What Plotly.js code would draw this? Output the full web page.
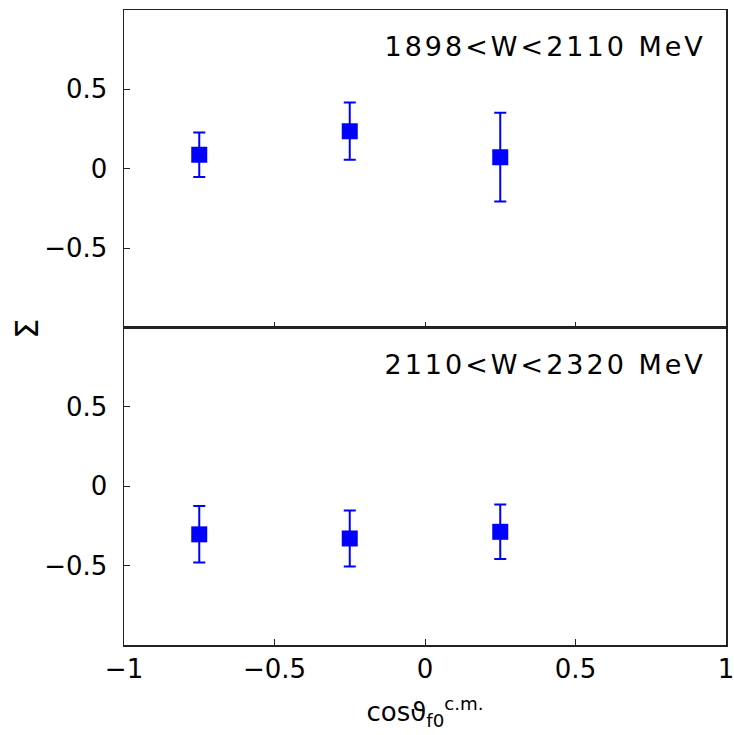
<!DOCTYPE html>
<html>
<head>
<meta charset="utf-8">
<script src="https://cdn.plot.ly/plotly-3.0.1.min.js"></script>
<style>
html,body{margin:0;padding:0;background:#fff;}
#chart .annotation-text{letter-spacing:3px;}
</style>
</head>
<body>
<div id="chart" style="width:734px;height:735px;"></div>
<script>
// Data
const cosTheta = [-0.75, -0.25, 0.25];
const sigmaLow = [0.088, 0.237, 0.073];        // 1898<W<2110 MeV
const sigmaLowErr = [0.14, 0.18, 0.28];
const sigmaHigh = [-0.303, -0.329, -0.287];    // 2110<W<2320 MeV
const sigmaHighErr = [0.178, 0.176, 0.172];
const panelLabels = ["1898<W<2110 MeV", "2110<W<2320 MeV"];
const xTicks = [-1, -0.5, 0, 0.5, 1];
const yTicks = [-0.5, 0, 0.5];

const FONT = "DejaVu Sans, Verdana, sans-serif";
const blue = "#0000ff";
const lineCol = "#222";

function trace(y, err, xa, ya) {
  return {
    x: cosTheta, y: y, xaxis: xa, yaxis: ya,
    type: "scatter", mode: "markers",
    marker: {symbol: "square", size: 16, color: blue},
    error_y: {type: "data", array: err, visible: true, color: blue, thickness: 2, width: 6},
    showlegend: false, hoverinfo: "skip"
  };
}

const data = [
  trace(sigmaLow, sigmaLowErr, "x2", "y"),
  trace(sigmaHigh, sigmaHighErr, "x", "y2")
];

const yCommon = {
  range: [-1, 1], tickvals: yTicks, ticks: "inside", ticklen: 6, tickwidth: 1,
  tickcolor: lineCol, showline: true, linecolor: lineCol, linewidth: 1.5, mirror: true,
  showgrid: false, zeroline: false, ticklabelstandoff: 10,
  tickfont: {family: FONT, size: 26, color: "#000"}
};

const layout = {
  width: 734, height: 735,
  margin: {l: 124, r: 8, t: 10, b: 90},
  paper_bgcolor: "#fff", plot_bgcolor: "#fff",
  font: {family: FONT, color: "#000"},
  xaxis: {
    anchor: "y2", domain: [0, 1], range: [-1, 1], tickvals: xTicks,
    ticks: "inside", ticklen: 6, tickwidth: 1, tickcolor: lineCol,
    showline: true, linecolor: lineCol, linewidth: 1.5, mirror: true,
    showgrid: false, zeroline: false, ticklabelstandoff: 0, ticklabeloverflow: "allow",
    tickfont: {family: FONT, size: 26, color: "#000"},
    title: {text: "cos\u03D1<sub>f0</sub><sup>c.m.</sup>", font: {family: FONT, size: 26, color: "#000"}, standoff: 20}
  },
  xaxis2: {
    anchor: "y", matches: "x", range: [-1, 1], tickvals: xTicks,
    ticks: "inside", ticklen: 6, tickwidth: 1, tickcolor: lineCol, showticklabels: false,
    showline: true, linecolor: lineCol, linewidth: 1.5, mirror: true,
    showgrid: false, zeroline: false
  },
  yaxis: Object.assign({domain: [0.5, 1], anchor: "x2"}, yCommon),
  yaxis2: Object.assign({domain: [0, 0.5], anchor: "x"}, yCommon),
  annotations: [
    {text: panelLabels[0], xref: "paper", yref: "paper", x: (545.5 - 124) / 602, y: 0.942,
     xanchor: "center", yanchor: "middle", showarrow: false,
     font: {family: FONT, size: 27, color: "#000"}},
    {text: panelLabels[1], xref: "paper", yref: "paper", x: (545.5 - 124) / 602, y: 0.442,
     xanchor: "center", yanchor: "middle", showarrow: false,
     font: {family: FONT, size: 27, color: "#000"}},
    {text: "\u03A3", xref: "paper", yref: "paper", x: (26 - 124) / 602, y: 0.5,
     xanchor: "center", yanchor: "middle", showarrow: false, textangle: -90,
     font: {family: FONT, size: 32, color: "#000"}}
  ]
};

Plotly.newPlot("chart", data, layout, {displayModeBar: false, staticPlot: true});
</script>
</body>
</html>
